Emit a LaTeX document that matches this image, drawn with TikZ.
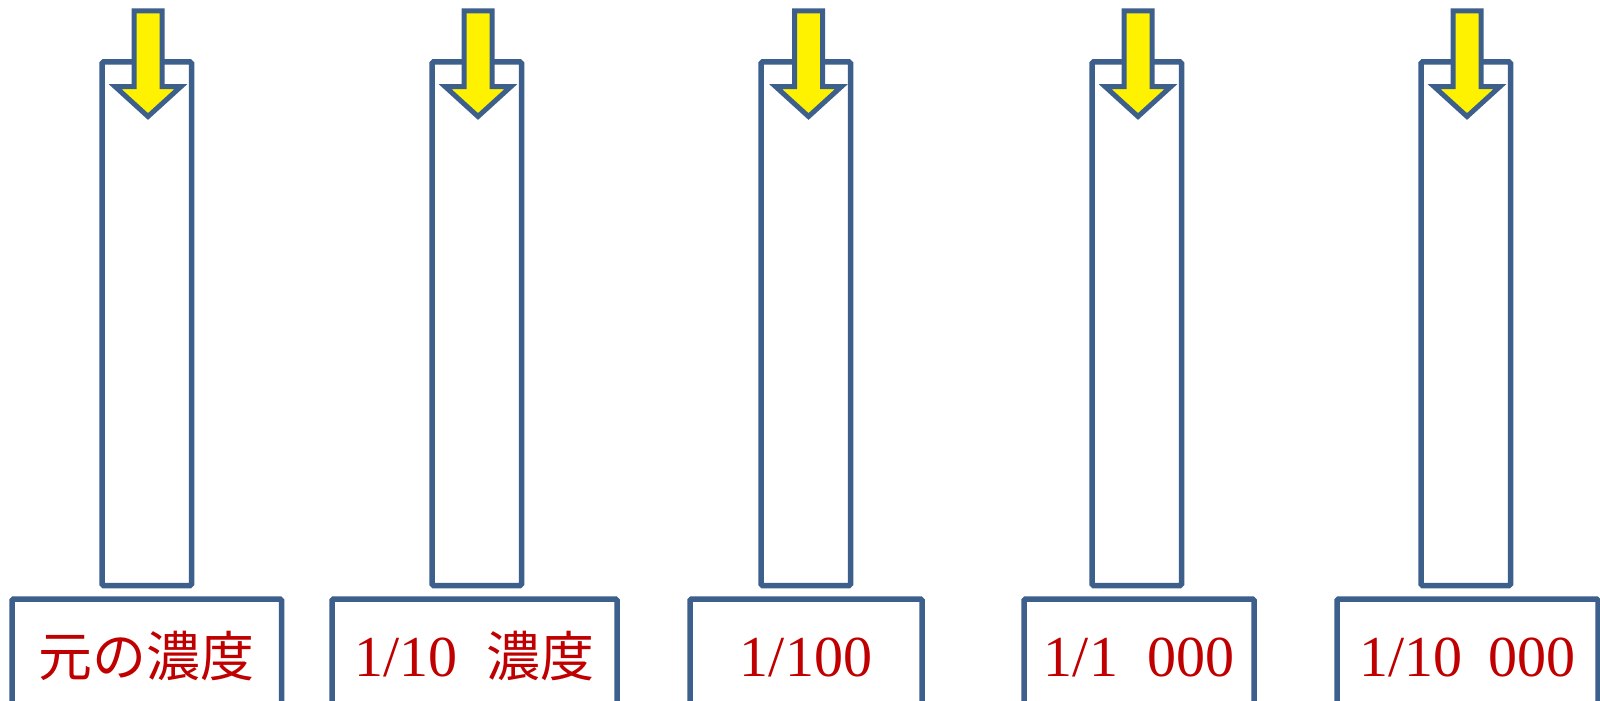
\documentclass[tikz,border=0pt]{standalone}
\usepackage{fontspec}
\setmainfont{Liberation Serif}
\newfontfamily\cjk{Noto Sans CJK JP}[Scale=0.93]
\definecolor{edgeblue}{HTML}{3C5F8C}
\definecolor{lblred}{HTML}{C00000}
\begin{document}
\begin{tikzpicture}[x=1pt,y=-1pt,
  tube/.style={draw=edgeblue,line width=5.5pt,rounded corners=1.5pt},
  arr/.style={draw=edgeblue,fill=yellow,line width=5pt,line join=miter},
  lab/.style={text=lblred,font=\fontsize{58}{64}\selectfont,anchor=base,inner sep=0pt}]
\useasboundingbox (0,0) rectangle (1600,701);
\fill[white] (0,0) rectangle (1600,701);
\foreach \tl/\ac/\bl/\br/\txt [count=\i] in {
  102/148/12/281.5/{{\cjk 元の濃度}},
  432/478/332/617/{1/10\hspace{0.5em}{\cjk 濃度}},
  761/808.5/690/922/{1/100},
  1092/1138/1024/1254/{1/1\hspace{0.5em}000},
  1421/1467/1337/1598/{1/10\hspace{0.45em}000}}{
  \draw[tube] (\tl,62) rectangle (\tl+89.5,585.5);
  \coordinate (tube\i) at (\tl+44.75,62);
  \draw[arr] (\ac-14,11) -- (\ac+14,11) -- (\ac+14,86.5) -- (\ac+33,86.5)
     -- (\ac,116.5) -- (\ac-33,86.5) -- (\ac-14,86.5) -- cycle;
  \draw[tube] (\bl,599) rectangle (\br,740);
  \node[lab] (lab\i) at ({(\bl+\br)/2},676) {\txt};
}
\end{tikzpicture}
\end{document}
